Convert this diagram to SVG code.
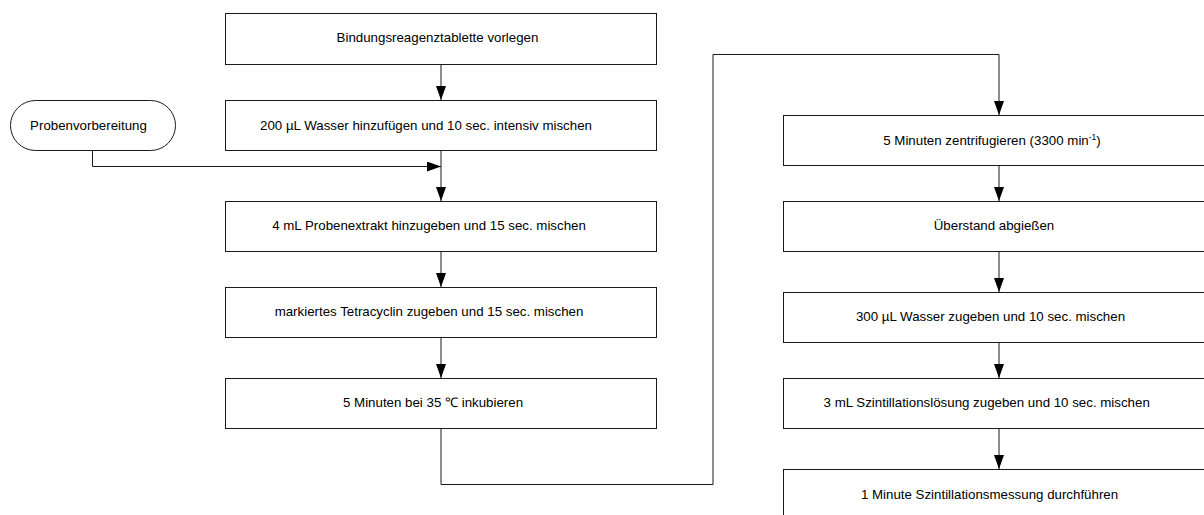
<svg xmlns="http://www.w3.org/2000/svg" width="1204" height="515" viewBox="0 0 1204 515">
<style>
.box{fill:#fff;stroke:#1a1a1a;stroke-width:1}
.t{font-family:"Liberation Sans",Arial,sans-serif;font-size:13.3px;fill:#000;text-anchor:middle}
.c{fill:none;stroke:#1a1a1a;stroke-width:1}
</style>
<defs>
<marker id="ah" markerUnits="userSpaceOnUse" markerWidth="14" markerHeight="10" refX="14" refY="5" orient="auto">
<path d="M0,0 L14,5 L0,10 Z" fill="#000"/>
</marker>
</defs>
<rect width="1204" height="515" fill="#fff"/>
<g id="connectors">
<path class="c" d="M441,64 V100" marker-end="url(#ah)"/>
<path class="c" d="M441,150 V201" marker-end="url(#ah)"/>
<path class="c" d="M92.5,150 V166.5 H441" marker-end="url(#ah)"/>
<path class="c" d="M441,251 V287" marker-end="url(#ah)"/>
<path class="c" d="M441,337 V378" marker-end="url(#ah)"/>
<path class="c" d="M441,429 V484.5 H713 V54.5 H999 V115" marker-end="url(#ah)"/>
<path class="c" d="M999,165 V201" marker-end="url(#ah)"/>
<path class="c" d="M999,252 V292" marker-end="url(#ah)"/>
<path class="c" d="M999,343 V378" marker-end="url(#ah)"/>
<path class="c" d="M999,429 V469" marker-end="url(#ah)"/>
</g>
<g id="n_proben">
<rect class="box" x="10.5" y="100.5" width="165" height="50" rx="25" ry="25"/>
<text class="t" x="88.5" y="129.5">Probenvorbereitung</text>
</g>
<g id="n1">
<rect class="box" x="225.5" y="13.5" width="431" height="51"/>
<text class="t" x="437.5" y="42">Bindungsreagenztablette vorlegen</text>
</g>
<g id="n2">
<rect class="box" x="225.5" y="100.5" width="431" height="50"/>
<text class="t" x="426" y="129.5">200 µL Wasser hinzufügen und 10 sec. intensiv mischen</text>
</g>
<g id="n3">
<rect class="box" x="225.5" y="201.5" width="431" height="50"/>
<text class="t" x="429" y="230">4 mL Probenextrakt hinzugeben und 15 sec. mischen</text>
</g>
<g id="n4">
<rect class="box" x="225.5" y="287.5" width="431" height="50"/>
<text class="t" x="429" y="316">markiertes Tetracyclin zugeben und 15 sec. mischen</text>
</g>
<g id="n5">
<rect class="box" x="225.5" y="378.5" width="431" height="50"/>
<text class="t" x="433" y="406.5">5 Minuten bei 35 ℃ inkubieren</text>
</g>
<g id="n6">
<rect class="box" x="783.5" y="115.5" width="431" height="50"/>
<text class="t" x="992" y="144.5">5 Minuten zentrifugieren (3300 min<tspan font-size="8.5px" dy="-5">-1</tspan><tspan dy="5">)</tspan></text>
</g>
<g id="n7">
<rect class="box" x="783.5" y="201.5" width="431" height="50"/>
<text class="t" x="994" y="230">Überstand abgießen</text>
</g>
<g id="n8">
<rect class="box" x="783.5" y="292.5" width="431" height="50"/>
<text class="t" x="990.5" y="321">300 µL Wasser zugeben und 10 sec. mischen</text>
</g>
<g id="n9">
<rect class="box" x="783.5" y="378.5" width="431" height="50"/>
<text class="t" x="986.7" y="406.5">3 mL Szintillationslösung zugeben und 10 sec. mischen</text>
</g>
<g id="n10">
<rect class="box" x="783.5" y="469.5" width="431" height="51"/>
<text class="t" x="989.5" y="498.5">1 Minute Szintillationsmessung durchführen</text>
</g>
</svg>
